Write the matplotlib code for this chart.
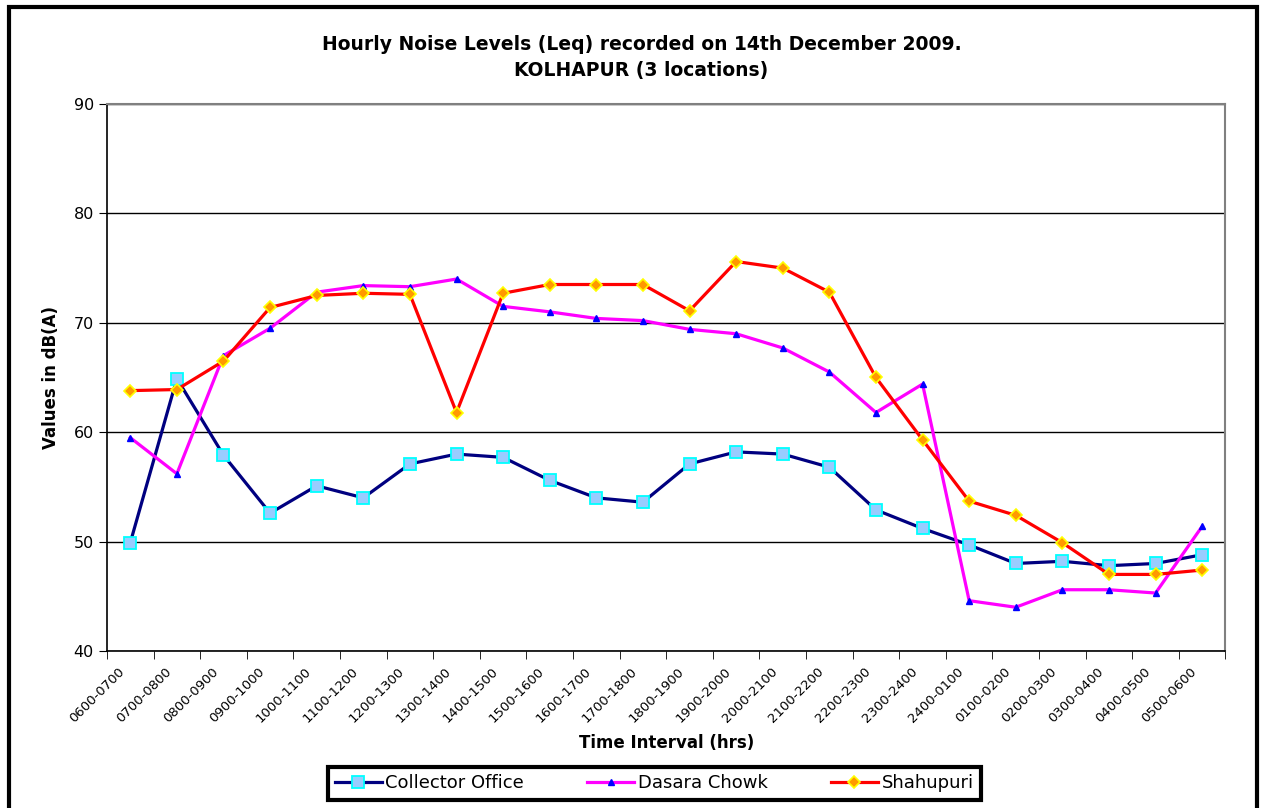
import matplotlib
matplotlib.use("Agg")
import matplotlib.pyplot as plt
import matplotlib.transforms as mtransforms
from matplotlib.patches import Rectangle

plt.rcParams['font.family'] = ['DejaVu Sans']

intervals = ["0600-0700", "0700-0800", "0800-0900", "0900-1000", "1000-1100",
             "1100-1200", "1200-1300", "1300-1400", "1400-1500", "1500-1600",
             "1600-1700", "1700-1800", "1800-1900", "1900-2000", "2000-2100",
             "2100-2200", "2200-2300", "2300-2400", "2400-0100", "0100-0200",
             "0200-0300", "0300-0400", "0400-0500", "0500-0600"]

collector_office = [49.9, 64.9, 57.9, 52.6, 55.1, 54.0, 57.1, 58.0, 57.7, 55.6,
                    54.0, 53.6, 57.1, 58.2, 58.0, 56.8, 52.9, 51.2, 49.7, 48.0,
                    48.2, 47.8, 48.0, 48.8]
dasara_chowk = [59.5, 56.2, 67.0, 69.5, 72.8, 73.4, 73.3, 74.0, 71.5, 71.0,
                70.4, 70.2, 69.4, 69.0, 67.7, 65.5, 61.8, 64.4, 44.6, 44.0,
                45.6, 45.6, 45.3, 51.4]
shahupuri = [63.8, 63.9, 66.5, 71.4, 72.5, 72.7, 72.6, 61.8, 72.7, 73.5,
             73.5, 73.5, 71.1, 75.6, 75.0, 72.8, 65.0, 59.3, 53.7, 52.4,
             49.9, 47.0, 47.0, 47.4]

fig = plt.figure(figsize=(12.63, 8.08), dpi=100)
ax = fig.add_axes([0.0847, 0.1943, 0.8856, 0.677])

x = list(range(len(intervals)))
ax.plot(x, collector_office, color="#000080", lw=2.3, marker="s", ms=8,
        mfc="#99ccff", mec="#00ffff", mew=1.3, label="Collector Office")
ax.plot(x, dasara_chowk, color="#ff00ff", lw=2.3, marker="^", ms=5,
        mfc="#0000ff", mec="#0000ff", label="Dasara Chowk")
ax.plot(x, shahupuri, color="#ff0000", lw=2.3, marker="D", ms=6,
        mfc="#ff9900", mec="#ffff00", mew=1.2, label="Shahupuri")

ax.set_xlim(-0.5, len(intervals) - 0.5)
ax.set_ylim(40, 90)
ax.set_yticks([40, 50, 60, 70, 80, 90])
ax.yaxis.grid(True, color="black", lw=1)
ax.set_axisbelow(True)

ax.set_xticks(x)
ax.set_xticklabels(intervals, rotation=45, ha="right", rotation_mode="anchor",
                   fontsize=9.5)
ax.tick_params(axis="x", length=0, pad=10)
shift = mtransforms.ScaledTranslation(-0.12, 0, fig.dpi_scale_trans)
for lab in ax.get_xticklabels():
    lab.set_transform(lab.get_transform() + shift)
ax.set_xticks([i - 0.5 for i in range(len(intervals) + 1)], minor=True)
ax.tick_params(axis="x", which="minor", length=6, color="black")
ax.tick_params(axis="y", labelsize=11.5, length=6, direction="out")

for s in ["top", "right"]:
    ax.spines[s].set_color("#808080")
    ax.spines[s].set_linewidth(1.5)
for s in ["left", "bottom"]:
    ax.spines[s].set_color("black")
    ax.spines[s].set_linewidth(1.2)

ax.set_xlabel("Time Interval (hrs)", fontsize=12, fontweight="bold", labelpad=6)
ax.set_ylabel("Values in dB(A)", fontsize=12, fontweight="bold", labelpad=10)
fig.text(0.508, 0.945, "Hourly Noise Levels (Leq) recorded on 14th December 2009.",
         ha="center", va="center", fontsize=13.5, fontweight="bold")
fig.text(0.508, 0.913, "KOLHAPUR (3 locations)",
         ha="center", va="center", fontsize=13.5, fontweight="bold")

leg = fig.legend(loc="center", bbox_to_anchor=(0.518, 0.0305), ncol=3,
                 fontsize=13, frameon=True, fancybox=False, borderpad=0.4,
                 columnspacing=3.5, handlelength=2.6, handletextpad=0.2,
                 framealpha=1)
leg.get_frame().set_edgecolor("black")
leg.get_frame().set_linewidth(3)

fig.patches.append(Rectangle((0.007, -0.02), 0.988, 1.011, transform=fig.transFigure,
                             fill=False, edgecolor="black", lw=3))

fig.savefig("out.png", dpi=100)
